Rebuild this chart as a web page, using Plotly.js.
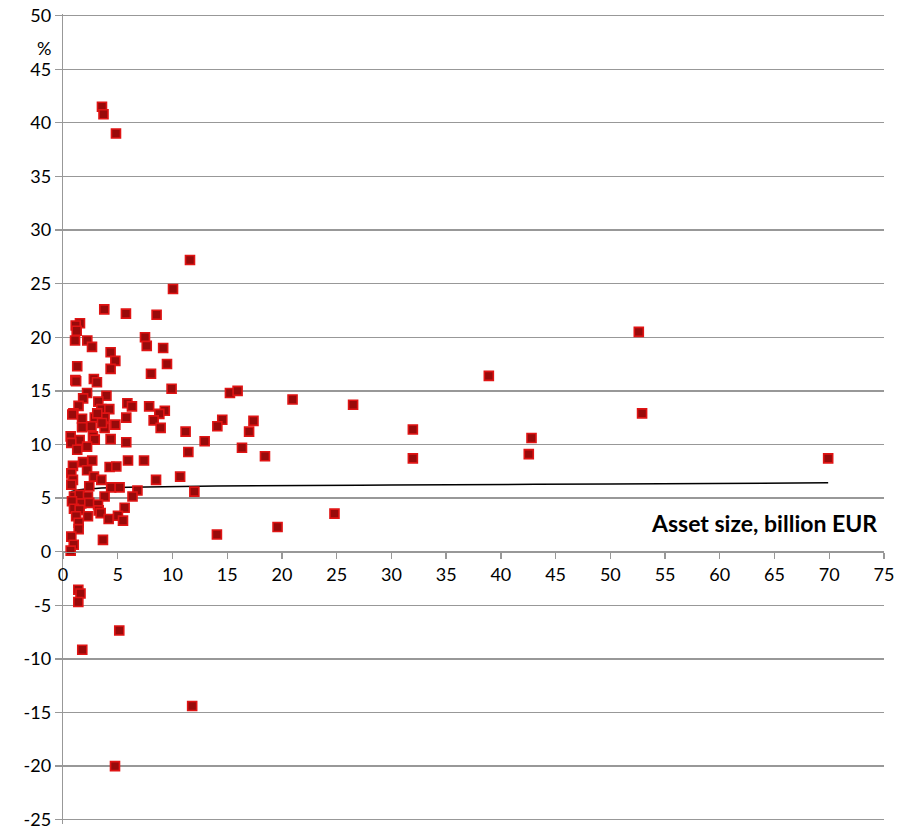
<!DOCTYPE html>
<html>
<head>
<meta charset="utf-8">
<script src="https://cdn.plot.ly/plotly-3.0.1.min.js"></script>
<style>html,body{margin:0;padding:0;background:#fff;}#chart{width:914px;height:829px;}</style>
</head>
<body>
<div id="chart"></div>
<script>
const assetSize = [3.56,3.7,4.84,11.6,10.05,3.77,5.75,8.55,1.55,1.16,1.25,1.1,2.22,2.65,7.49,7.65,9.15,4.35,4.78,1.3,9.5,4.35,8.04,1.13,1.2,2.82,3.1,9.92,15.25,15.95,20.97,2.2,1.84,3.97,3.23,5.88,1.42,0.95,0.85,3.5,4.23,6.3,7.87,9.3,8.8,1.74,2.9,3.8,3.13,5.78,8.28,4.78,1.74,2.6,3.8,3.56,8.92,11.2,14.55,14.1,17.4,17.0,12.94,11.45,16.35,18.45,0.7,1.52,2.74,2.9,0.76,2.2,1.3,4.35,5.78,2.67,1.83,0.91,2.2,4.26,4.87,5.94,7.4,0.76,0.91,2.83,3.5,0.76,2.4,4.4,5.17,8.5,10.7,6.8,12.0,1.0,1.52,2.28,3.8,6.35,0.82,1.67,2.4,3.2,1.0,1.52,2.28,3.26,3.44,5.63,1.2,4.17,5.02,5.48,1.43,1.43,0.76,0.98,0.7,3.65,1.4,1.6,1.4,5.14,1.76,4.75,11.8,52.6,38.9,26.5,52.9,31.96,31.96,42.8,42.55,69.9,24.8,19.6,14.06];
const returnPct = [41.5,40.8,39.0,27.2,24.5,22.6,22.2,22.1,21.3,21.1,20.6,19.7,19.7,19.1,20.0,19.2,19.0,18.6,17.8,17.3,17.5,17.05,16.6,16.0,15.9,16.1,15.8,15.2,14.8,15.0,14.2,14.8,14.3,14.55,14.0,13.85,13.6,12.9,12.8,13.3,13.3,13.55,13.55,13.15,12.85,12.4,12.5,12.5,12.9,12.5,12.25,11.85,11.6,11.7,11.55,12.0,11.55,11.2,12.3,11.7,12.2,11.2,10.3,9.3,9.7,8.9,10.75,10.4,10.75,10.45,10.15,9.8,9.5,10.5,10.2,8.5,8.35,8.0,7.6,7.9,7.95,8.5,8.5,7.3,6.7,7.0,6.7,6.25,6.1,6.0,6.0,6.7,7.0,5.7,5.6,5.15,5.3,5.15,5.15,5.15,4.7,4.5,4.55,4.4,4.0,3.9,3.3,3.85,3.6,4.1,3.3,3.05,3.35,2.9,2.7,2.1,1.4,0.65,0.1,1.1,-3.55,-3.9,-4.7,-7.35,-9.15,-20.0,-14.4,20.5,16.4,13.7,12.9,11.4,8.7,10.6,9.1,8.7,3.55,2.3,1.6];
const trendX = [0.7,1.5,3,6,14,30,50,69.9];
const trendY = [5.6,5.78,5.9,6.0,6.12,6.22,6.32,6.42];
const xTicks = [0,5,10,15,20,25,30,35,40,45,50,55,60,65,70,75];
const yTicks = [-25,-20,-15,-10,-5,0,5,10,15,20,25,30,35,40,45,50];
const yLabel = '%';
const xLabel = 'Asset size, billion EUR';

const font = {family: 'Lato, "Open Sans", sans-serif', size: 18, color: '#000'};
const yMin = -25.4, yMax = 50.15;

const traces = [
  {x: trendX, y: trendY, type: 'scatter', mode: 'lines', line: {color: '#000', width: 1.5, shape: 'spline'}, hoverinfo: 'skip'},
  {x: assetSize, y: returnPct, type: 'scatter', mode: 'markers',
   marker: {symbol: 'square', size: 9, color: '#980a0a', line: {color: '#e01414', width: 1.6}}}
];

const layout = {
  width: 914, height: 829,
  margin: {l: 63, r: 30, t: 14, b: 5, pad: 0},
  paper_bgcolor: '#fff', plot_bgcolor: '#fff',
  showlegend: false,
  font: font,
  xaxis: {
    range: [0, 75], tickvals: xTicks, ticktext: xTicks.map(String),
    anchor: 'free', position: (0 - yMin) / (yMax - yMin),
    showgrid: false, zeroline: false,
    showline: true, linecolor: '#989898', linewidth: 1.3,
    ticks: 'outside', ticklen: 6, tickcolor: '#989898', tickwidth: 1.3,
    tickfont: font
  },
  yaxis: {
    range: [yMin, yMax], tickvals: yTicks, ticktext: yTicks.map(String),
    showgrid: true, gridcolor: '#989898', gridwidth: 1.3,
    zeroline: false, ticklabeloverflow: 'allow',
    showline: true, linecolor: '#989898', linewidth: 1.3,
    ticks: 'outside', ticklen: 7, tickcolor: '#989898', tickwidth: 1.3,
    tickfont: font
  },
  annotations: [
    {text: yLabel, xref: 'paper', yref: 'y', x: -0.023, y: 47.0, xanchor: 'center', yanchor: 'middle', showarrow: false, font: font},
    {text: '<b>' + xLabel + '</b>', xref: 'x', yref: 'y', x: 74.5, y: 2.7, xanchor: 'right', yanchor: 'middle', showarrow: false, font: {family: font.family, size: 23, color: '#000'}}
  ]
};

Plotly.newPlot('chart', traces, layout, {displayModeBar: false, staticPlot: true});
</script>
</body>
</html>
